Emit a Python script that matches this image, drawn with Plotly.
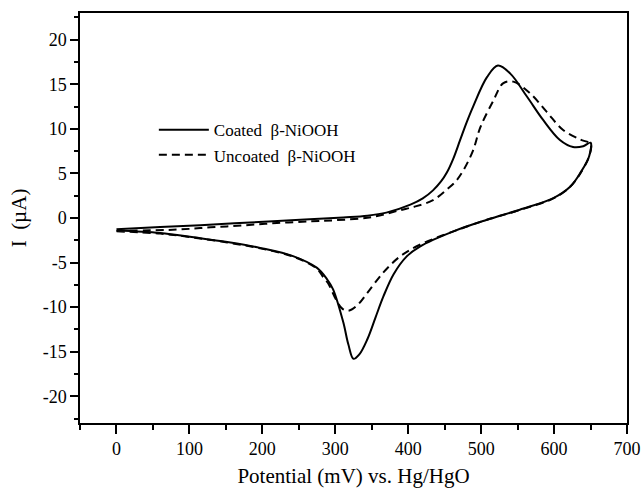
import plotly.graph_objects as go

# Coated beta-NiOOH: anodic sweep then cathodic sweep
coated_E = [0, 60, 115, 183, 252, 311, 344, 370, 403, 420, 434, 445, 453, 462, 471, 480, 489, 508, 523, 540, 563, 585, 608, 626, 640, 650,
            648, 636, 622, 599, 553, 508, 462, 416, 398, 380, 366, 355, 344, 333, 325, 318, 311, 297, 289, 275, 243, 197, 152, 106, 60, 0]
coated_I = [-1.25, -1.0, -0.8, -0.5, -0.2, 0.07, 0.26, 0.6, 1.5, 2.2, 3.1, 4.1, 5.1, 6.7, 8.7, 10.7, 12.5, 15.8, 17.1, 16.2, 13.6, 11.0, 8.75, 7.96, 8.05, 8.45,
            6.9, 5.06, 3.5, 2.23, 0.93, -0.2, -1.5, -3.2, -4.3, -6.3, -8.8, -11.2, -13.6, -15.3, -15.8, -14.2, -11.7, -8.0, -6.9, -5.6, -4.3, -3.35, -2.7, -2.17, -1.68, -1.4]

# Uncoated beta-NiOOH
uncoated_E = [0, 83, 129, 174, 220, 266, 300, 350, 390, 410, 434, 453, 465, 476, 489, 499, 517, 530, 544, 567, 590, 612, 636, 650,
              648, 636, 622, 599, 553, 508, 462, 416, 389, 366, 344, 330, 318, 310, 302, 290, 284, 275, 243, 197, 152, 106, 60, 0]
uncoated_I = [-1.45, -1.3, -1.05, -0.83, -0.56, -0.38, -0.25, 0.1, 0.9, 1.3, 2.0, 3.2, 4.1, 5.4, 7.6, 10.2, 13.2, 15.1, 15.3, 14.0, 11.9, 9.9, 8.8, 8.3,
              6.9, 5.0, 3.5, 2.2, 0.9, -0.2, -1.5, -3.0, -4.3, -6.1, -8.4, -9.8, -10.4, -10.2, -9.3, -7.3, -6.7, -5.7, -4.35, -3.4, -2.75, -2.2, -1.75, -1.5]

x_ticks = [0, 100, 200, 300, 400, 500, 600, 700]
y_ticks = [-20, -15, -10, -5, 0, 5, 10, 15, 20]
y_tick_labels = ["-20", "-15", "-10", "-5", "0", "5", "10", "15", "20"]

FONT = "Liberation Serif, Times New Roman, serif"

fig = go.Figure()
fig.add_trace(go.Scatter(x=coated_E, y=coated_I, mode="lines",
                         name="Coated\u00a0\u00a0β-NiOOH",
                         line=dict(color="black", width=2, shape="spline", smoothing=1.0)))
fig.add_trace(go.Scatter(x=uncoated_E, y=uncoated_I, mode="lines",
                         name="Uncoated\u00a0\u00a0β-NiOOH",
                         line=dict(color="black", width=2, dash="8px,5px", shape="spline", smoothing=1.0)))

axis_common = dict(showgrid=False, zeroline=False, showline=True, linecolor="black", linewidth=1.5,
                   mirror=True, ticks="outside", tickcolor="black", tickwidth=1.5, automargin=False,
                   tickfont=dict(family=FONT, size=18, color="black"))

fig.update_xaxes(range=[-50, 700], tickvals=x_ticks, ticklen=9,
                 minor=dict(dtick=50, tick0=0, ticks="outside", ticklen=5, tickcolor="black", tickwidth=1.5),
                 title=dict(text="Potential (mV) vs. Hg/HgO", font=dict(family=FONT, size=21, color="black"), standoff=10),
                 **axis_common)
fig.update_yaxes(range=[-23, 23], tickvals=y_ticks, ticktext=y_tick_labels, ticklen=8,
                 minor=dict(dtick=2.5, tick0=0, ticks="outside", ticklen=4, tickcolor="black", tickwidth=1.5),
                 title=dict(text="I\u00a0\u00a0(µA)", font=dict(family=FONT, size=21, color="black"), standoff=10),
                 **axis_common)

fig.update_layout(width=643, height=489, margin=dict(l=80, r=16, t=13, b=66),
                  plot_bgcolor="white", paper_bgcolor="white",
                  legend=dict(x=0.135, y=0.758, xanchor="left", yanchor="top",
                              bgcolor="rgba(0,0,0,0)", font=dict(family=FONT, size=17, color="black"),
                              tracegroupgap=0, itemwidth=50))

fig.write_html("out.html", config={"displayModeBar": False},
               post_script="document.body.style.margin='0';document.body.style.padding='0';")
